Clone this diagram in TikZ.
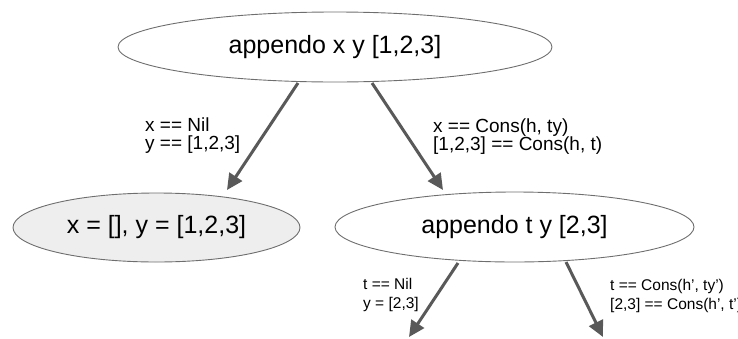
\documentclass[tikz,border=0pt]{standalone}
\usepackage{fontspec}
\setmainfont{Liberation Sans}
\usetikzlibrary{shapes.geometric,arrows.meta}
\definecolor{edgegray}{HTML}{595959}
\definecolor{bordgray}{HTML}{6E6E6E}
\definecolor{leafgray}{HTML}{EEEEEE}
\begin{document}
\begin{tikzpicture}[x=1pt,y=-1pt,
  state/.style={ellipse, draw=bordgray, line width=0.9pt, inner sep=0pt,
    font=\fontsize{25}{30}\selectfont},
  conn/.style={draw=edgegray, line width=3pt,
    -{Triangle[length=16pt,width=15pt]}},
  midlbl/.style={anchor=north west, inner sep=0pt, align=left,
    font=\fontsize{19}{18}\selectfont},
  lowlbl/.style={anchor=north west, inner sep=0pt, align=left,
    font=\fontsize{15.5}{19}\selectfont}]
\useasboundingbox (0,0) rectangle (738,338);
\node[state, minimum width=434pt, minimum height=70pt] (top) at (335,47) {appendo x y [1,2,3]};
\node[state, fill=leafgray, minimum width=287pt, minimum height=69pt] (nil) at (156.5,227.5) {x = [], y = [1,2,3]};
\node[state, minimum width=359pt, minimum height=70pt] (rec) at (514.5,227) {appendo t y [2,3]};
% connector end points
\coordinate (s1) at (298,83);
\coordinate (e1) at (227,190);
\coordinate (s2) at (372,83);
\coordinate (e2) at (443,190);
\coordinate (s3) at (458,263);
\coordinate (e3) at (409,337);
\coordinate (s4) at (566,262);
\coordinate (e4) at (603,337);
\draw[conn] (s1) -- (e1);
\draw[conn] (s2) -- (e2);
\draw[conn] (s3) -- (e3);
\draw[conn] (s4) -- (e4);
% labels
\node[midlbl] (l1) at (145,118) {x == Nil\\y == {[}1,2,3]};
\node[midlbl] (l2) at (433,119) {x == Cons(h, ty)\\{[}1,2,3] == Cons(h, t)};
\node[lowlbl] (l3) at (363,278) {t == Nil\\y = {[}2,3]};
\node[lowlbl] (l4) at (610,279) {t == Cons(h', ty')\\{[}2,3] == Cons(h', t')};
\end{tikzpicture}
\end{document}
